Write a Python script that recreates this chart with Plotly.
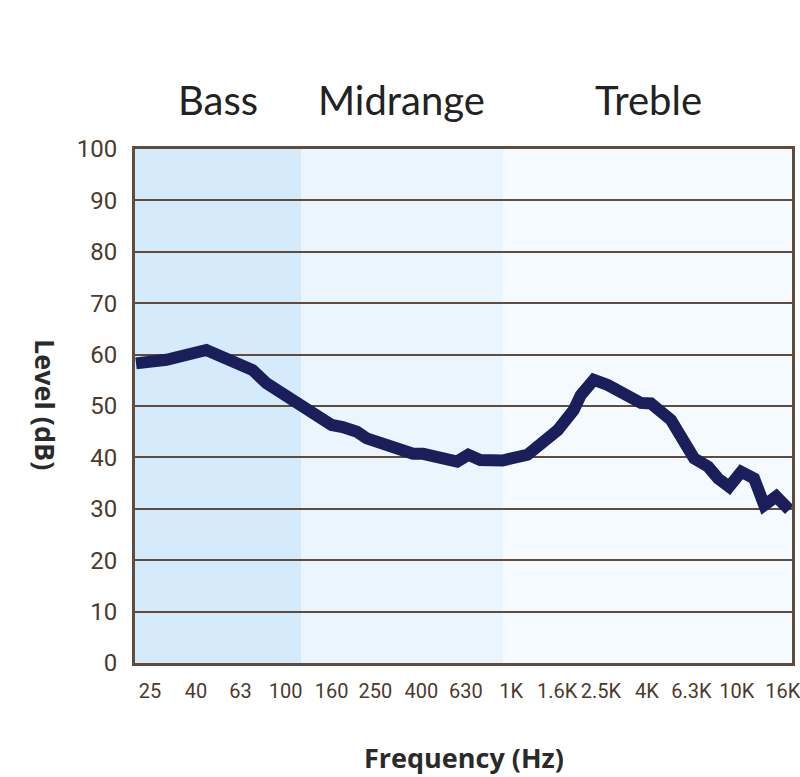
import plotly.graph_objects as go

# Data
freq_hz = [21.7, 29.6, 44.5, 54.6, 71.3, 82.3, 104, 119, 130, 141.6, 160, 179, 207, 229,
           299, 367, 407, 576, 645, 729, 914, 1180, 1607, 1893, 2033, 2323, 2680, 3063,
           3759, 4160, 5108, 6471, 7464, 8260, 9250, 10471, 11940, 13240, 14960, 17100]
level_db = [58.3, 59.0, 60.9, 59.0, 57.0, 54.4, 51.5, 50.2, 48.9, 48.2, 46.3, 45.9, 45.0, 43.7,
            42.1, 40.7, 40.7, 39.2, 40.5, 39.5, 39.4, 40.5, 45.3, 49.2, 52.1, 55.1, 54.1, 52.5,
            50.6, 50.5, 47.3, 39.8, 38.2, 35.9, 34.3, 37.2, 35.9, 30.7, 32.4, 29.8]

tick_vals = [25, 40, 63, 100, 160, 250, 400, 630, 1000, 1600, 2500, 4000, 6300, 10000, 16000]
tick_text = ["25", "40", "63", "100", "160", "250", "400", "630", "1K", "1.6K", "2.5K",
             "4K", "6.3K", "10K", "16K"]

band_names = ["Bass", "Midrange", "Treble"]
band_edges_hz = [20, 117, 920, 20000]
band_colors = ["#d5ebfb", "#eaf5fe", "#f5faff"]
band_label_x = [0.126, 0.406, 0.781]

frame_color = "#5e4c3f"
tick_color = "#4b3a2e"
tick_font = "Roboto"

fig = go.Figure()
fig.add_trace(go.Scatter(x=freq_hz, y=level_db, mode="lines",
                         line=dict(color="#1a1f5c", width=12), hoverinfo="skip"))

for i, name in enumerate(band_names):
    fig.add_shape(type="rect", xref="x", yref="paper",
                  x0=band_edges_hz[i], x1=band_edges_hz[i + 1],
                  y0=0, y1=1, fillcolor=band_colors[i], line=dict(width=0), layer="below")
    fig.add_annotation(text=name, xref="paper", yref="paper", x=band_label_x[i], y=1.095,
                       showarrow=False, xanchor="center", yanchor="middle",
                       font=dict(family="Lato", size=40, color="#222222"))

fig.add_annotation(text="Level (dB)", xref="paper", yref="paper", x=-0.137, y=0.502,
                   textangle=90, showarrow=False, xanchor="center", yanchor="middle",
                   font=dict(family="Open Sans", size=27, color="#2a2a2a", weight="bold"))
fig.add_annotation(text="Frequency (Hz)", xref="paper", yref="paper", x=0.5008, y=-0.183,
                   showarrow=False, xanchor="center", yanchor="middle",
                   font=dict(family="Open Sans", size=27, color="#2a2a2a", weight="bold"))

fig.update_xaxes(type="log", range=[1.332, 4.245], tickvals=tick_vals, ticktext=tick_text,
                 tickangle=0, automargin=False, ticklabeloverflow="allow",
                 showgrid=False, zeroline=False, showline=True, mirror=True,
                 linecolor=frame_color, linewidth=3,
                 ticks="outside", ticklen=8, tickcolor="rgba(0,0,0,0)",
                 tickfont=dict(family=tick_font, size=20, color=tick_color))
fig.update_yaxes(range=[0, 100], dtick=10, showgrid=True, gridcolor=frame_color, gridwidth=2,
                 zeroline=False, showline=True, mirror=True, automargin=False,
                 linecolor=frame_color, linewidth=3,
                 ticks="outside", ticklen=10, tickcolor="rgba(0,0,0,0)",
                 tickfont=dict(family=tick_font, size=24, color=tick_color))

fig.update_layout(width=800, height=777, margin=dict(l=135, r=8, t=149, b=114),
                  paper_bgcolor="white", plot_bgcolor="white", showlegend=False)

fig.write_html("out.html")
